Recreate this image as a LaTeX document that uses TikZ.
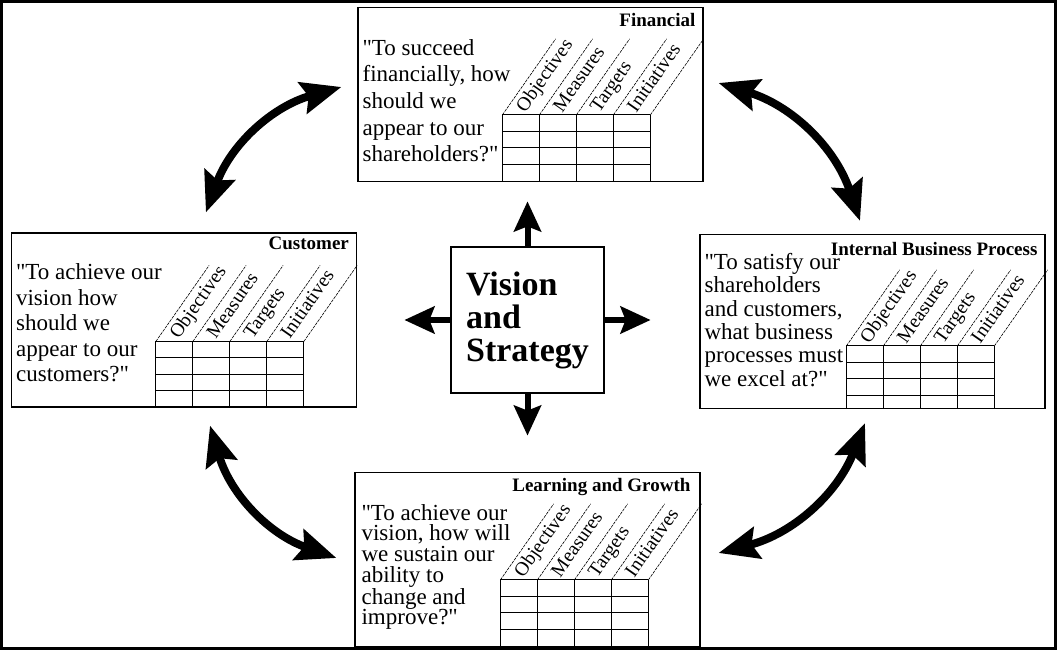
\documentclass[tikz,border=0pt]{standalone}
\usepackage{fontspec}
\setmainfont{Liberation Serif}
\usetikzlibrary{arrows.meta,positioning}
\newcommand{\qm}{\textquotedbl}

\begin{document}
\begin{tikzpicture}[x=1pt,y=1pt]

      \tikzset{card/.style={draw, line width=1.2pt, rectangle, minimum width=345pt, minimum height=174pt, inner sep=0pt},
        cardtitle/.style={font=\fontsize{19}{19}\selectfont\bfseries, inner sep=0pt, anchor=base east},
        question/.style={align=left, inner sep=0pt, anchor=north west},
        collabel/.style={font=\fontsize{19.5}{19.5}\selectfont, rotate=55, anchor=mid west, inner sep=0pt},
        gridline/.style={line width=1pt},
        slantline/.style={line width=0.6pt, dash pattern=on 3pt off 1pt},
        cycle arrow/.style={line width=8pt, {Stealth[length=40pt,width=32pt,inset=6pt]}-{Stealth[length=40pt,width=32pt,inset=6pt]}, bend left=27},
        out arrow/.style={line width=6pt, -{Stealth[length=30pt,width=27pt,inset=5pt]}},
        pics/scoregrid/.style={code={
          \foreach \c in {0,37,74,111,148} {
            \draw[gridline] (\c,0) -- (\c,-#1);
            \draw[slantline] (\c,0) -- ++(55:92.8);
          }
          \foreach \r in {0,-16.5,-33,-49.5}
            \draw[gridline] (0,\r) -- (148,\r);
          \foreach \lbl [count=\i from 0] in {Objectives,Measures,Targets,Initiatives}
            \node[collabel] (-col\i) at ({\i*37+21},3) {\lbl};
        }}}

      \useasboundingbox (0,0) rectangle (1057,650);
      \draw[line width=3pt] (1.5,1.5) rectangle (1055.5,648.5);

%% Perspective boxes
      	\node[card] (fin) at (530.5,555.5) {};
      	\node[card] (cust) at (184,330) {};
      	\node[card] (ibp) at (872.5,328.5) {};
      	\node[card] (learn) at (527.5,90.5) {};
      	\node[draw, line width=1.2pt, minimum width=153pt, minimum height=146pt, align=left,
      	      font=\fontsize{34}{33}\selectfont\bfseries] (vision) at (527.5,330) {Vision\\and\\Strategy};

%% Titles
      	\node[cardtitle] (fintitle) at ([shift={(-8,-20)}]fin.north east) {Financial};
      	\node[cardtitle] (custtitle) at ([shift={(-8,-17)}]cust.north east) {Customer};
      	\node[cardtitle] (ibptitle) at ([shift={(-8,-22)}]ibp.north east) {Internal Business Process};
      	\node[cardtitle] (learntitle) at ([shift={(-10,-20)}]learn.north east) {Learning and Growth};

%% Questions
      	\node[question, font=\fontsize{23}{26.7}\selectfont] (finq) at ([shift={(5,-32)}]fin.north west)
      	  {\qm To succeed\\financially, how\\should we\\appear to our\\shareholders?\qm};
      	\node[question, font=\fontsize{23}{25.5}\selectfont] (custq) at ([shift={(5,-31)}]cust.north west)
      	  {\qm To achieve our\\vision how\\should we\\appear to our\\customers?\qm};
      	\node[question, font=\fontsize{23}{23.4}\selectfont] (ibpq) at ([shift={(5,-19)}]ibp.north west)
      	  {\qm To satisfy our\\shareholders\\and customers,\\what business\\processes must\\we excel at?\qm};
      	\node[question, font=\fontsize{23}{20.7}\selectfont] (learnq) at ([shift={(7,-32)}]learn.north west)
      	  {\qm To achieve our\\vision, how will\\we sustain our\\ability to\\change and\\improve?\qm};

%% Scorecard grids
      	\pic (fingrid) at ([shift={(145,-108)}]fin.north west) {scoregrid=66};
      	\pic (custgrid) at ([shift={(145,-109)}]cust.north west) {scoregrid=65};
      	\pic (ibpgrid) at ([shift={(147,-112)}]ibp.north west) {scoregrid=62};
      	\pic (learngrid) at ([shift={(146,-108)}]learn.north west) {scoregrid=66};

%% Arrows out of the centre
      	\coordinate[above=45pt of vision] (vup);
      	\coordinate[below=42pt of vision] (vdown);
      	\coordinate[left=46pt of vision] (vleft);
      	\coordinate[right=46pt of vision] (vright);
		\draw[out arrow] (vision) -- (vup);
		\draw[out arrow] (vision) -- (vdown);
		\draw[out arrow] (vision) -- (vleft);
		\draw[out arrow] (vision) -- (vright);

%% Arrows between the boxes
		\draw[cycle arrow] ([shift={(195,20)}]cust.north west) to ([shift={(-16,7.5)}]fin.west);
		\draw[cycle arrow] ([shift={(15,11.5)}]fin.east) to ([shift={(-12.5,13)}]ibp.north);
		\draw[cycle arrow] ([shift={(-7.5,-14)}]ibp.south) to ([shift={(18,6.5)}]learn.east);
		\draw[cycle arrow] ([shift={(-18,1.5)}]learn.west) to ([shift={(26,-18)}]cust.south);

	\end{tikzpicture}
\end{document}
